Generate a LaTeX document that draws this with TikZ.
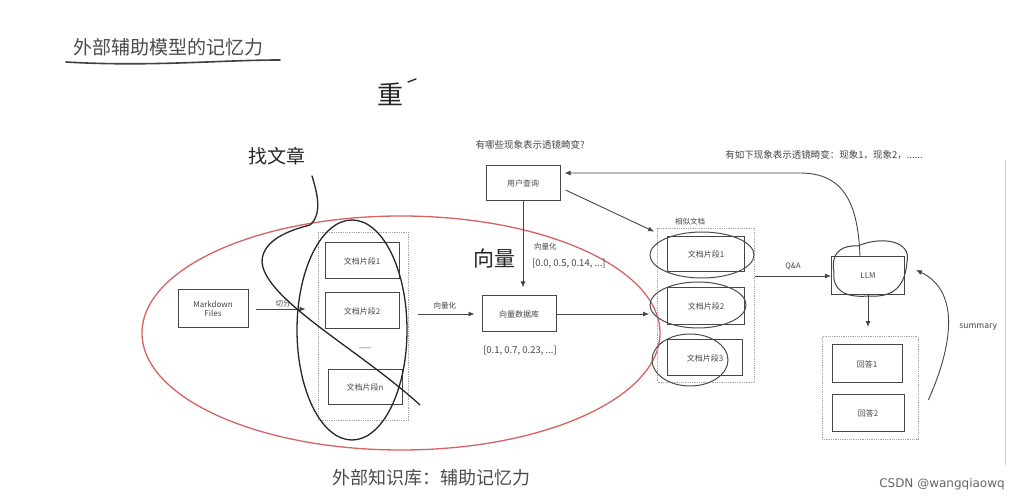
\documentclass[tikz,border=0pt]{standalone}
\usepackage{fontspec}
\setmainfont{Noto Sans CJK SC}
\newfontfamily\latinfont{DejaVu Sans}
\usetikzlibrary{arrows.meta}
\definecolor{inkgray}{RGB}{70,70,70}
\definecolor{redline}{RGB}{214,98,98}
\begin{document}
\begin{tikzpicture}[x=1pt,y=-1pt,
  box/.style={draw=inkgray, line width=1pt, minimum width=74pt, minimum height=36pt,
    font=\fontsize{8}{9.5}\selectfont, text=inkgray, inner sep=1pt, align=center},
  grp/.style={draw=black!35, densely dotted, line width=0.8pt, inner sep=0pt},
  arr/.style={draw=inkgray, line width=0.9pt, -{Latex[length=6pt,width=5pt]}},
  lbl/.style={font=\fontsize{7.5}{9}\selectfont, text=inkgray, inner sep=1pt},
  biglbl/.style={font=\fontsize{9.5}{11}\selectfont, text=inkgray, inner sep=1pt},
  hand/.style={draw=black!85, line width=1.3pt, line cap=round},
  handtext/.style={text=black!85, inner sep=0pt},
]
\useasboundingbox (0,0) rectangle (1028,502);
\fill[white] (0,0) rectangle (1028,502);

% title
\node[font=\fontsize{19}{22}\selectfont, text=black!70] (title) at (168,47) {外部辅助模型的记忆力};
\draw[line width=1.6pt, black!75, line cap=round] (66,62) .. controls (150,67) and (220,60) .. (280,60);

% red ellipse
\draw[redline, line width=1.3pt] (401,333) ellipse [x radius=259pt, y radius=117pt];

% groups
\node[grp, minimum width=90pt, minimum height=188pt] (g1) at (363,326) {};
\node[grp, minimum width=97pt, minimum height=154pt] (g2) at (706,305) {};
\node[grp, minimum width=96pt, minimum height=103pt] (g3) at (870,388) {};

% boxes
\node[box, minimum width=70pt, minimum height=38pt] (md) at (213,309) {Markdown\\Files};
\node[box] (d1) at (362,261) {文档片段1};
\node[box] (d2) at (362,311) {文档片段2};
\node[lbl] (dots) at (365,349) {——};
\node[box, minimum height=35pt] (dn) at (365,387) {文档片段n};
\node[box] (db) at (519,314) {向量数据库};
\node[box, minimum height=35pt] (q) at (523,183) {用户查询};
\node[box, minimum width=77pt, minimum height=35pt] (r1) at (706,254) {文档片段1};
\node[box, minimum width=77pt, minimum height=37pt] (r2) at (706,306) {文档片段2};
\node[box, minimum width=75pt, minimum height=36pt] (r3) at (705,358) {文档片段3};
\node[box, minimum width=73pt, minimum height=38pt] (llm) at (868,276) {LLM};
\node[box, minimum width=70pt, minimum height=38pt] (a1) at (867,364) {回答1};
\node[box, minimum width=72pt, minimum height=37pt] (a2) at (868,413) {回答2};

% labels
\node[biglbl] (lq) at (530,145) {有哪些现象表示透镜畸变?};
\node[biglbl] (la) at (824,155) {有如下现象表示透镜畸变：现象1，现象2，......};
\node[lbl] (lsim) at (690,222) {相似文档};
\node[biglbl] (lvec) at (520,351) {[0.1, 0.7, 0.23, ...]};
\node[lbl, anchor=west] (lqv1) at (533,247) {向量化};
\node[biglbl, anchor=west] (lqv2) at (531,264) {[0.0, 0.5, 0.14, ...]};

% connectors
\draw[arr, shorten <=7pt, shorten >=12pt] (md.east) -- (md.east -| g1.west)
  node[midway, above, lbl] {切分};
\draw[arr, shorten <=10pt, shorten >=7pt] (db.west -| g1.east) -- (db.west)
  node[midway, above=3pt, lbl] {向量化};
\draw[arr, shorten >=8pt] (db.east) -- (db.east -| g2.west);
\draw[arr, shorten >=8pt] (q.south) -- (q.south |- db.north);
\draw[arr] ([shift={(5pt,-7pt)}]q.east) -- ([xshift=-3pt, yshift=-4pt]g2.north west);
\draw[arr] (llm.west -| g2.east) -- (llm.west) node[midway, above=5pt, lbl] {Q\&A};
\coordinate (qin) at ([shift={(4pt,10pt)}]q.east);
\draw[arr] ([xshift=-8pt]llm.north) .. controls (858,205) and (845,173) .. (800,173) -- (qin);
\draw[arr, shorten >=9pt] (llm.south) -- (llm.south |- g3.north);
\draw[arr] ([shift={(10pt,-12pt)}]g3.east) .. controls (955,340) and (958,290) .. ([shift={(11pt,6pt)}]llm.east)
  node[pos=0.45, right=10pt, font=\fontsize{8.5}{10}\selectfont, text=inkgray, inner sep=1pt] {summary};

% right frame edge
\draw[black!20, line width=1pt] (1005,160) -- (1005,465);

% handwritten annotations
\node[handtext, font=\fontsize{26}{26}\selectfont] (hz) at (390,94) {重};
\draw[hand] (408,82) -- (416,79);
\node[handtext, font=\fontsize{19}{19}\selectfont] (hf) at (277,156) {找文章};
\node[handtext, font=\fontsize{21}{21}\selectfont] (hv) at (494,259) {向量};
\draw[hand] (352,330) ellipse [x radius=55pt, y radius=110pt];
\draw[hand] (312,176) .. controls (318,195) and (322,215) .. (310,225)
  .. controls (290,230) and (262,240) .. (262,262)
  .. controls (265,300) and (360,350) .. (420,405);
\draw[hand, black!70, line width=1pt] (702,255) ellipse [x radius=52pt, y radius=23pt];
\draw[hand, black!70, line width=1pt] (698,305) ellipse [x radius=48pt, y radius=23pt];
\draw[hand, black!70, line width=1pt] (690,360) ellipse [x radius=38pt, y radius=26pt];
\draw[hand, black!75, line width=1pt] (834,272) .. controls (830,250) and (845,245) .. (858,246)
  .. controls (880,236) and (912,240) .. (907,262)
  .. controls (905,285) and (895,298) .. (868,296)
  .. controls (845,298) and (832,290) .. (834,272);

% bottom caption and watermark
\node[font=\fontsize{18}{22}\selectfont, text=black!70] (cap) at (431,478) {外部知识库：辅助记忆力};
\node[font=\latinfont\fontsize{12}{14}\selectfont, text=black!60] (wm) at (942,484) {CSDN @wangqiaowq};
\end{tikzpicture}
\end{document}
